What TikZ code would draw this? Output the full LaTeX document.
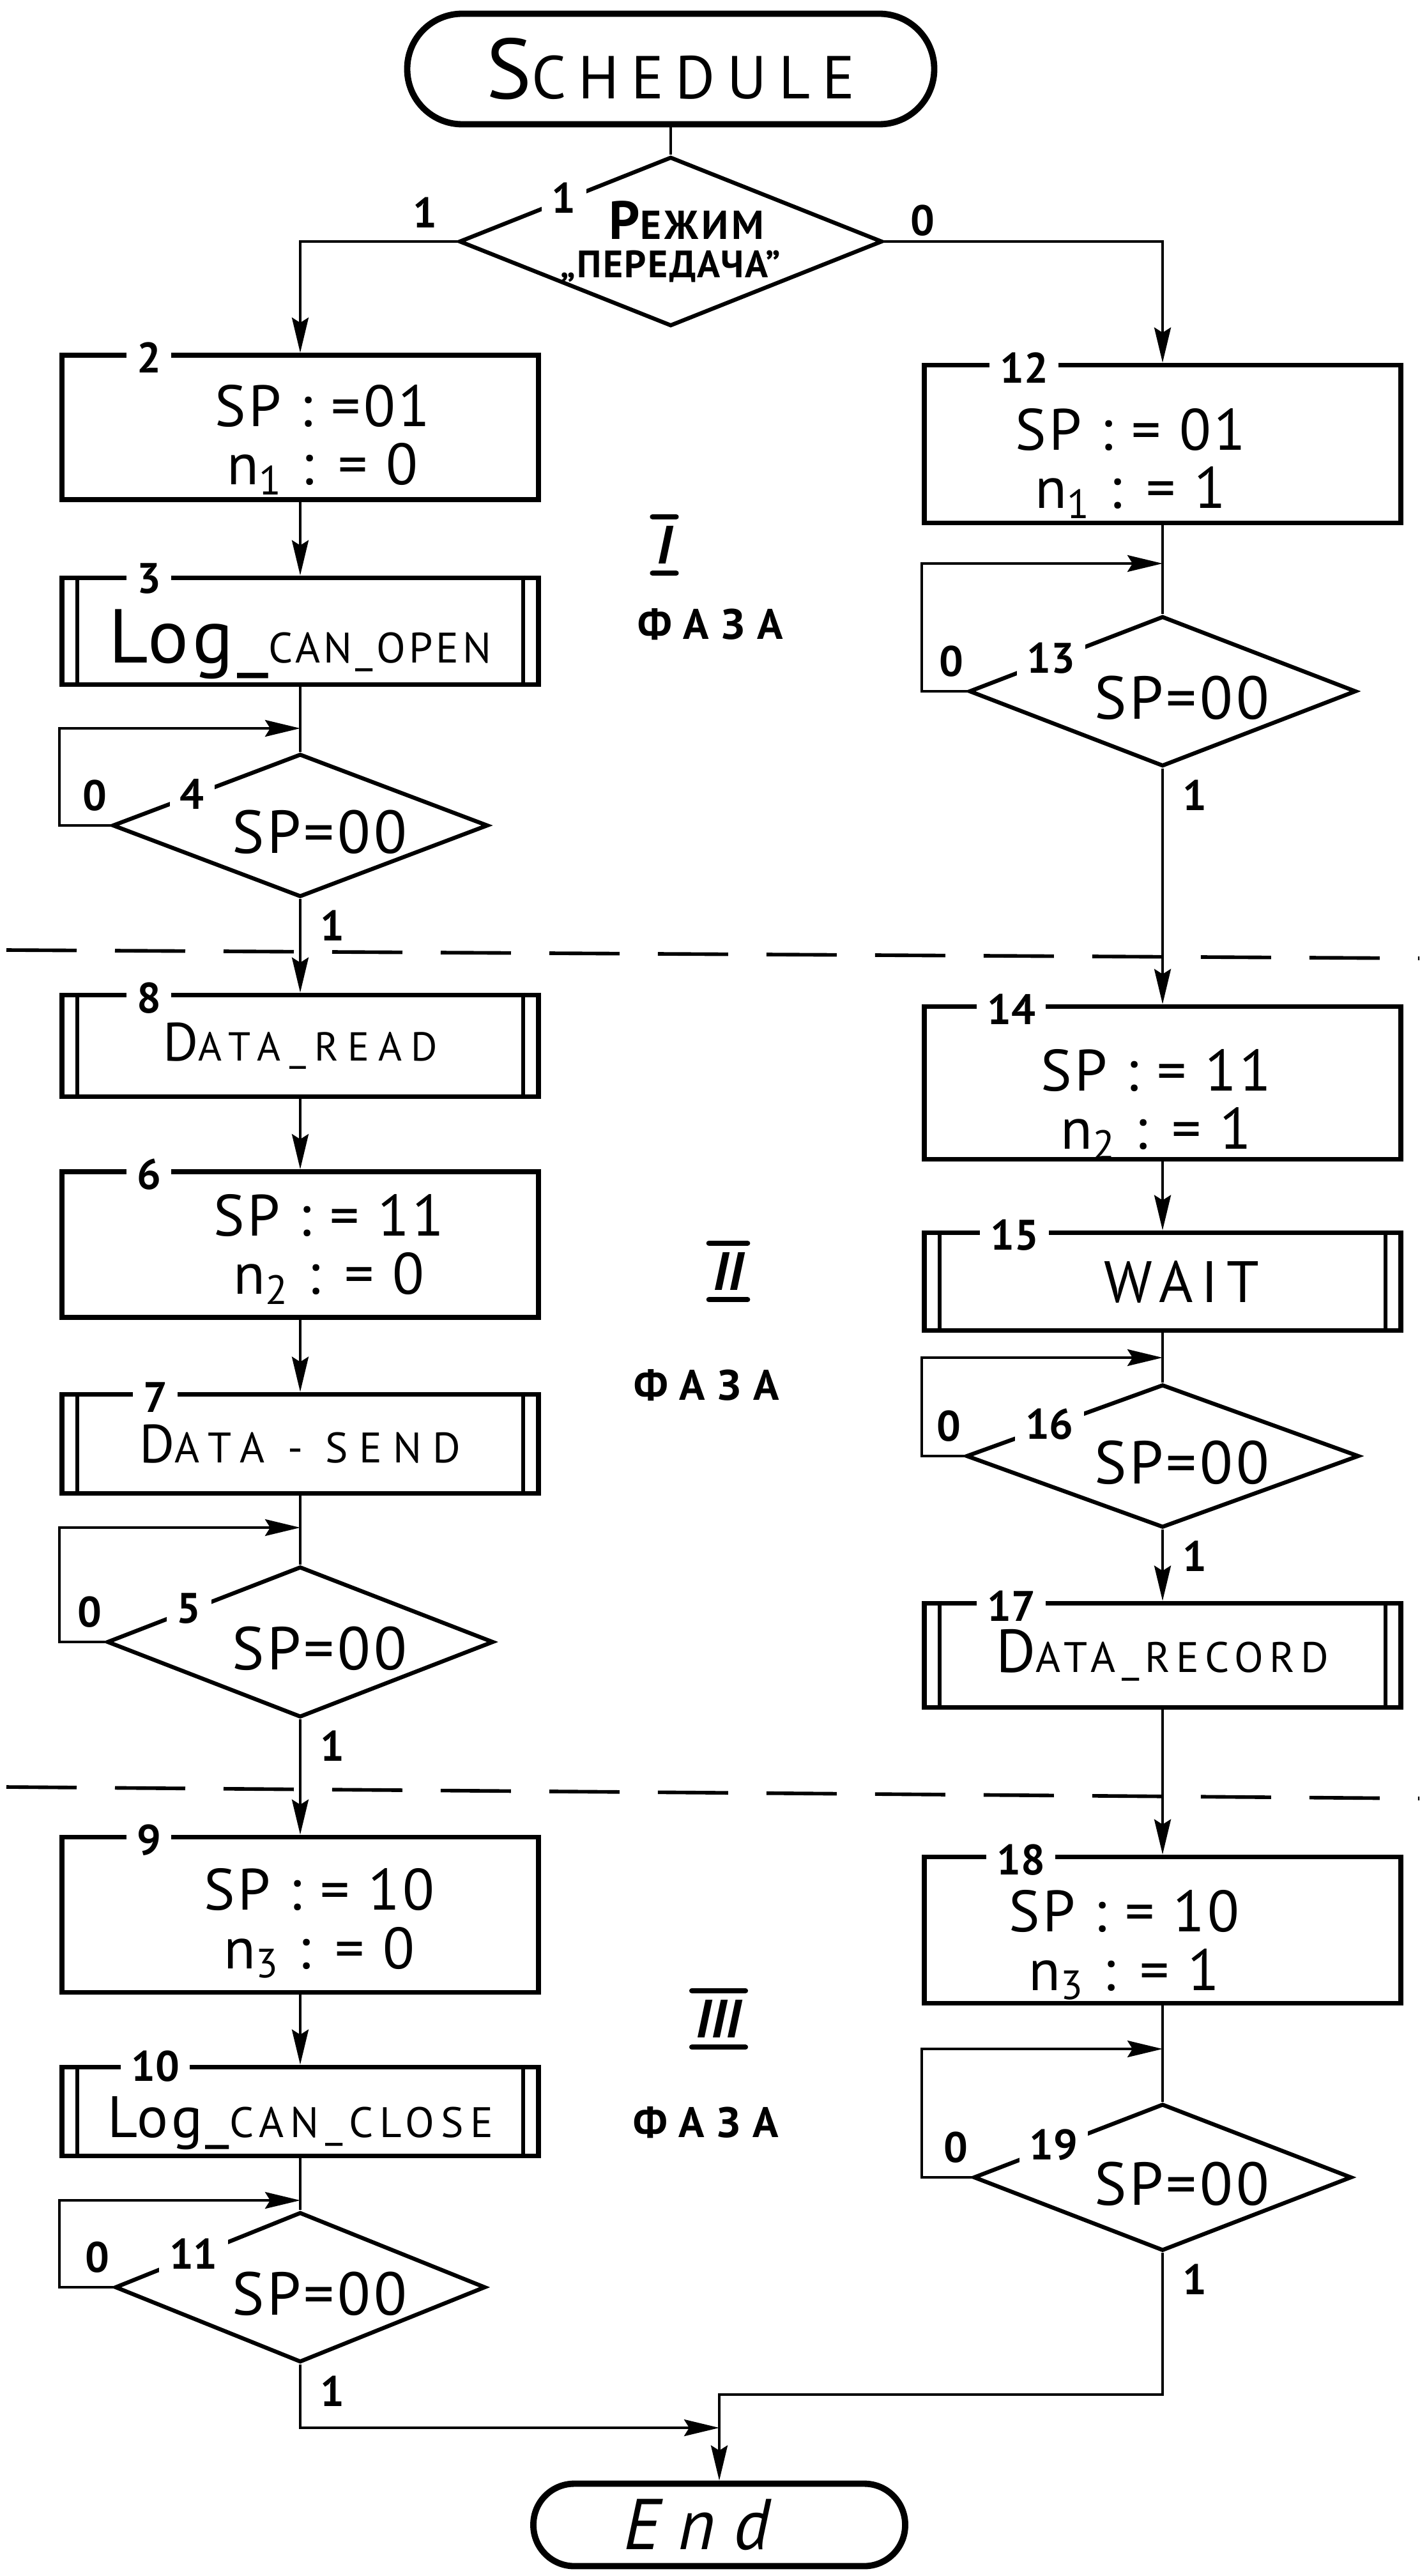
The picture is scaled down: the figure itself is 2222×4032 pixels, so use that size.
\documentclass[tikz,border=0pt]{standalone}
\usepackage{fontspec}
\setmainfont{PT Sans}
\usetikzlibrary{shapes.geometric, arrows.meta, calc}

\newcommand{\lowc}[3][15]{{\fontsize{#1}{#1}\selectfont\addfontfeature{LetterSpace=#2}#3}}
\newcommand{\topgap}[1]{\rule{0pt}{#1}}

\tikzset{
  terminal/.style={draw, line width=2.8pt, inner sep=0pt},
  process/.style={draw, line width=2.2pt, minimum width=74.6mm, inner sep=0pt, align=center, font=\fontsize{26}{26}\selectfont\addfontfeature{LetterSpace=5}},
  subproc/.style={process},
  decision/.style={draw, diamond, aspect=2.5, line width=1.8pt, inner sep=0pt, align=center, font=\fontsize{27}{27}\selectfont\addfontfeature{LetterSpace=5}},
  sptest/.style={decision, text height=8.6mm, text depth=0mm},
  blocknum/.style={fill=white, inner xsep=1.6mm, inner ysep=0.4mm, font=\fontsize{19}{19}\selectfont\bfseries},
  branch/.style={font=\fontsize{19}{19}\selectfont\bfseries},
  flow/.style={line width=1.2pt},
  arrowflow/.style={flow, -{Stealth[length=5.5mm, width=2.6mm, inset=0.8mm]}},
  phaseline/.style={line width=1.6pt, dash pattern=on 11mm off 6mm},
  phasenum/.style={font=\fontsize{24}{24}\selectfont\itshape\bfseries, inner xsep=0.6mm, inner ysep=1.4mm},
  phasename/.style={font=\fontsize{19}{19}\selectfont\bfseries\addfontfeature{LetterSpace=30}},
  numbar/.style={line width=2.4pt, line cap=round}
}

\begin{document}
\begin{tikzpicture}[x=0.1mm, y=-0.1mm]
  \useasboundingbox (0,0) rectangle (2222,4032);

  % terminals
  \node[terminal, minimum width=82.5mm, minimum height=17.3mm, rounded corners=8.6mm, font=\fontsize{38}{38}\selectfont] (start) at (1050,108) {S\lowc[27]{20}{CHEDULE}};
  \node[terminal, minimum width=58.2mm, minimum height=12.9mm, rounded corners=6.4mm, font=\fontsize{32}{32}\selectfont\itshape\addfontfeature{LetterSpace=25}] (stop) at (1126,3952) {End\hspace*{7mm}};

  % mode test
  \node[decision, minimum width=60mm, minimum height=24mm, font=\fontsize{24}{17}\selectfont\bfseries] (d1) at (1050,378) {\hspace*{5mm}Р\lowc[18]{8}{ЕЖИМ}\\\lowc[17]{4}{„ПЕРЕДАЧА”}};

  % left column: transmit
  \node[process, minimum height=22.6mm] (b2) at (470,669) {\topgap{10.4mm}\hspace*{7mm}SP : =01\\\hspace*{7mm}n\textsubscript{1} : = 0};
  \node[subproc, minimum height=16.7mm, text height=12.3mm, text depth=2.5mm] (b3) at (470,988) {\fontsize{34}{34}\selectfont Log\_\lowc[19]{8}{CAN\_OPEN}};
  \node[sptest, minimum width=58.8mm, minimum height=22.4mm] (d4) at (470,1292) {\hspace*{6mm}SP=00};
  \node[subproc, minimum height=15.9mm] (b8) at (470,1637) {\fontsize{24}{24}\selectfont D\lowc[18]{22}{ATA\_READ}};
  \node[process, minimum height=22.8mm] (b6) at (470,1948) {\topgap{8mm}\hspace*{9mm}SP : = 11\\\hspace*{9mm}n\textsubscript{2} : = 0};
  \node[subproc, minimum height=15.5mm] (b7) at (470,2260) {\fontsize{24}{24}\selectfont D\lowc[19]{26}{ATA - SEND}};
  \node[sptest, minimum width=60.5mm, minimum height=23.6mm] (d5) at (470,2570) {\hspace*{6mm}SP=00};
  \node[process, minimum height=24.3mm] (b9) at (470,2997) {\topgap{9.2mm}\hspace*{6mm}SP : = 10\\\hspace*{6mm}n\textsubscript{3} : = 0};
  \node[subproc, minimum height=13.9mm, text height=10mm, text depth=2mm] (b10) at (470,3305) {\fontsize{26}{26}\selectfont Log\_\lowc[19]{15}{CAN\_CLOSE}};
  \node[sptest, minimum width=58mm, minimum height=23.5mm] (d11) at (470,3580) {\hspace*{6mm}SP=00};

  % right column: receive
  \node[process, minimum height=24.7mm] (b12) at (1820,695) {\topgap{12.6mm}SP : = 01\hspace*{10mm}\\n\textsubscript{1} : = 1\hspace*{10mm}};
  \node[sptest, minimum width=60.6mm, minimum height=23.5mm] (d13) at (1820,1082) {\hspace*{6mm}SP=00};
  \node[process, minimum height=23.7mm] (b14) at (1820,1695) {\topgap{13.2mm}SP : = 11\hspace*{2mm}\\n\textsubscript{2} : = 1\hspace*{2mm}};
  \node[subproc, minimum height=15.3mm] (b15) at (1820,2006) {\hspace*{6mm}\addfontfeature{LetterSpace=14}WAIT};
  \node[sptest, minimum width=61.5mm, minimum height=22.4mm] (d16) at (1820,2279) {\hspace*{6mm}SP=00};
  \node[subproc, minimum height=16.3mm] (b17) at (1820,2591) {\fontsize{27}{27}\selectfont D\lowc[19]{14}{ATA\_RECORD}};
  \node[process, minimum height=22.9mm] (b18) at (1820,3021) {\topgap{11.2mm}SP : = 10\hspace*{12mm}\\n\textsubscript{3} : = 1\hspace*{12mm}};
  \node[sptest, minimum width=59.2mm, minimum height=23mm] (d19) at (1820,3408) {\hspace*{6mm}SP=00};

  % double sides of the subroutine boxes
  \foreach \b in {b3,b8,b7,b10,b15,b17}
    \draw[line width=1.6pt] ([xshift=2.8mm]\b.north west) -- ([xshift=2.8mm]\b.south west)
      ([xshift=-2.8mm]\b.north east) -- ([xshift=-2.8mm]\b.south east);

  % block numbers
  \node[blocknum] (n2) at ([shift={(140,8)}]b2.north west) {2};
  \node[blocknum] (n3) at ([shift={(140,5)}]b3.north west) {3};
  \node[blocknum] (n8) at ([shift={(140,8)}]b8.north west) {8};
  \node[blocknum] (n6) at ([shift={(140,8)}]b6.north west) {6};
  \node[blocknum] (n7) at ([shift={(150,8)}]b7.north west) {7};
  \node[blocknum] (n9) at ([shift={(140,8)}]b9.north west) {9};
  \node[blocknum] (n10) at ([shift={(150,2)}]b10.north west) {10};
  \node[blocknum] (n12) at ([shift={(160,8)}]b12.north west) {12};
  \node[blocknum] (n14) at ([shift={(140,8)}]b14.north west) {14};
  \node[blocknum] (n15) at ([shift={(145,8)}]b15.north west) {15};
  \node[blocknum] (n17) at ([shift={(140,8)}]b17.north west) {17};
  \node[blocknum] (n18) at ([shift={(155,8)}]b18.north west) {18};
  \node[blocknum] (n1) at ($(d1.west)!0.5!(d1.north)$) {1};
  \node[blocknum] (n4) at ($(d4.west)!0.43!(d4.north)$) {4};
  \node[blocknum] (n5) at ($(d5.west)!0.43!(d5.north)$) {5};
  \node[blocknum] (n11) at ($(d11.west)!0.43!(d11.north)$) {11};
  \node[blocknum] (n13) at ($(d13.west)!0.43!(d13.north)$) {13};
  \node[blocknum] (n16) at ($(d16.west)!0.43!(d16.north)$) {16};
  \node[blocknum] (n19) at ($(d19.west)!0.43!(d19.north)$) {19};

  % branch labels
  \node[branch] (y1) at ([shift={(-50,-45)}]d1.west) {1};
  \node[branch] (z1) at ([shift={(60,-33)}]d1.east) {0};
  \foreach \d in {d4,d5,d11,d13,d16,d19} {
    \node[branch] (z\d) at ([shift={(-24,-47)}]\d.west) {0};
    \node[branch] (y\d) at ([shift={(50,42)}]\d.south) {1};
  }

  % phases
  \node[phasenum] (ph1) at (1040,853) {I};
  \node[phasename] (fz1) at (1112,977) {ФАЗА};
  \node[phasenum] (ph2) at (1140,1990) {II};
  \node[phasename] (fz2) at (1106,2168) {ФАЗА};
  \node[phasenum] (ph3) at (1125,3160) {III};
  \node[phasename] (fz3) at (1105,3322) {ФАЗА};
  \foreach \p in {ph1,ph2,ph3}
    \draw[numbar] (\p.north west) -- (\p.north east) (\p.south west) -- (\p.south east);
  \draw[phaseline] (10,1487) -- (2222,1500);
  \draw[phaseline] (10,2797) -- (2222,2815);

  % connectors, left
  \draw[flow] (start) -- (d1);
  \draw[arrowflow] (d1.west) -| (b2.north);
  \draw[arrowflow] (d1.east) -| (b12.north);
  \draw[arrowflow] (b2) -- (b3);
  \draw[flow] (b3) -- (d4);
  \coordinate (j4) at (470,1140);
  \draw[arrowflow] (d4.west) -- (d4.west -| b3.west) |- (j4);
  \draw[arrowflow] (d4) -- (b8);
  \draw[arrowflow] (b8) -- (b6);
  \draw[arrowflow] (b6) -- (b7);
  \draw[flow] (b7) -- (d5);
  \coordinate (j5) at (470,2391);
  \draw[arrowflow] (d5.west) -- (d5.west -| b7.west) |- (j5);
  \draw[arrowflow] (d5) -- (b9);
  \draw[arrowflow] (b9) -- (b10);
  \draw[flow] (b10) -- (d11);
  \coordinate (j11) at (470,3444);
  \draw[arrowflow] (d11.west) -- (d11.west -| b10.west) |- (j11);
  \coordinate (jl) at (1126,3800);
  \draw[arrowflow] (d11.south) |- (jl);

  % connectors, right
  \draw[flow] (b12) -- (d13);
  \coordinate (j13) at (1820,882);
  \draw[arrowflow] (d13.west) -- (d13.west -| b12.west) |- (j13);
  \draw[arrowflow] (d13) -- (b14);
  \draw[arrowflow] (b14) -- (b15);
  \draw[flow] (b15) -- (d16);
  \coordinate (j16) at (1820,2125);
  \draw[arrowflow] (d16.west) -- (d16.west -| b15.west) |- (j16);
  \draw[arrowflow] (d16) -- (b17);
  \draw[arrowflow] (b17) -- (b18);
  \draw[flow] (b18) -- (d19);
  \coordinate (j19) at (1820,3207);
  \draw[arrowflow] (d19.west) -- (d19.west -| b18.west) |- (j19);
  \coordinate (jr) at (1126,3748);
  \draw[arrowflow] (d19.south) |- (jr) -- (stop);
\end{tikzpicture}
\end{document}
